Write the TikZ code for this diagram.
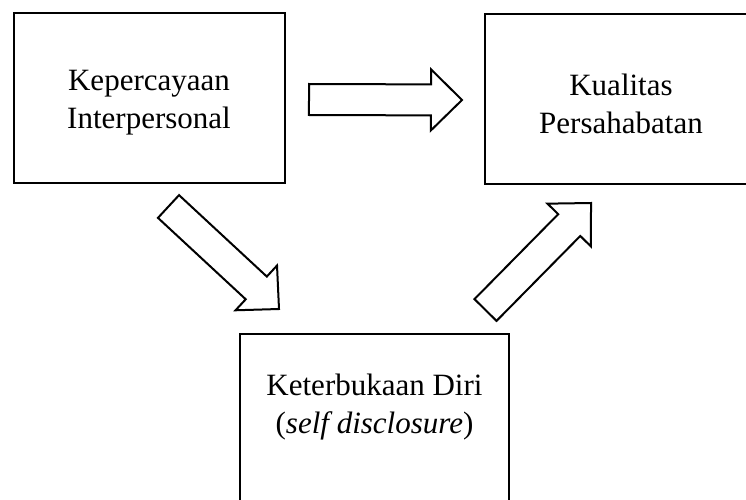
\documentclass[tikz,border=0pt]{standalone}
\usepackage{fontspec}
\setmainfont{Liberation Serif}
\usetikzlibrary{calc}
\tikzset{
  box/.style={draw, line width=2pt, minimum width=271pt, minimum height=170pt, inner sep=0pt},
  lbl/.style={align=center, font=\fontsize{31}{38}\selectfont, inner sep=0pt},
  blockarrow/.style={draw, line width=2pt, line join=miter, fill=white}
}
\newcommand{\blockarr}[3]{%
  \coordinate (#3b) at ($(#2)!31pt!(#1)$);
  \draw[blockarrow] ($(#1)!15.5pt!90:(#2)$) -- ($(#3b)!15.5pt!-90:(#1)$) -- ($(#3b)!30.5pt!-90:(#1)$) -- (#2) -- ($(#3b)!30.5pt!90:(#1)$) -- ($(#3b)!15.5pt!90:(#1)$) -- ($(#1)!15.5pt!-90:(#2)$) -- cycle;
}
\begin{document}
\begin{tikzpicture}[x=1pt,y=-1pt]
  \useasboundingbox (0,0) rectangle (746,500);
  \clip (0,0) rectangle (746,500);
  \node[box] (kp) at (149.5,98) {};
  \node[lbl] (kpt) at (149,103) {Kepercayaan\\Interpersonal};
  \node[box, minimum width=272pt] (kq) at (621,99) {};
  \node[lbl] (kqt) at (621,104) {Kualitas\\Persahabatan};
  \node[box, minimum width=269pt] (kd) at (374.5,419) {};
  \node[lbl] (kdt) at (374.5,407) {Keterbukaan Diri\\(\textit{self disclosure})};
  \coordinate (a1t) at (309,99.5);
  \coordinate (a1p) at (462,100);
  \coordinate (a2t) at (168.5,206.5);
  \coordinate (a2p) at (279,309);
  \coordinate (a3t) at (485.5,310);
  \coordinate (a3p) at (591,203);
  \blockarr{a1t}{a1p}{a1}
  \blockarr{a2t}{a2p}{a2}
  \blockarr{a3t}{a3p}{a3}
\end{tikzpicture}
\end{document}
